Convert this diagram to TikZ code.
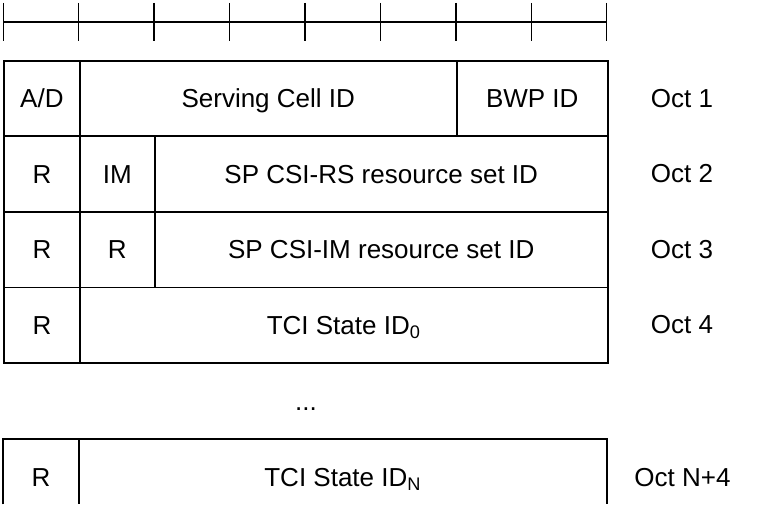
\documentclass[tikz,border=0pt]{standalone}
\usepackage{fontspec}
\setmainfont{Liberation Sans}
\begin{document}
\begin{tikzpicture}[x=1pt,y=-1pt,
  txt/.style={font=\fontsize{26}{30}\selectfont, inner sep=0pt, text height=18.6pt, text depth=0pt},
  cell/.style={txt, draw, line width=1.8pt, minimum height=75.5pt, anchor=north west},
  frame/.style={line width=1.8pt},
  ruler/.style={line width=1.5pt}]
\useasboundingbox (0,0) rectangle (760,516);
% ruler
\draw[ruler] (3.3,22) -- (606.7,22);
\foreach \i in {0,...,8} {
  \draw[ruler] ({3.3+75.425*\i},3) -- ({3.3+75.425*\i},41);
}
% Oct 1
\node[cell, minimum width=75.4pt]  (ad)   at (3.3,60) {A/D};
\node[cell, minimum width=377.3pt] (scid) at (78.7,60) {Serving Cell ID};
\node[cell, minimum width=150.7pt] (bwp)  at (456,60) {BWP ID};
% Oct 2
\node[cell, minimum width=75.4pt]  (r2)   at (3.3,135.5) {R};
\node[cell, minimum width=75.3pt]  (im)   at (78.7,135.5) {IM};
\node[cell, minimum width=452.7pt] (csirs) at (154,135.5) {SP CSI-RS resource set ID};
% Oct 3
\node[cell, minimum width=75.4pt]  (r3a)  at (3.3,211) {R};
\node[cell, minimum width=75.3pt]  (r3b)  at (78.7,211) {R};
\node[cell, minimum width=452.7pt] (csiim) at (154,211) {SP CSI-IM resource set ID};
% Oct 4
\node[cell, minimum width=75.4pt]  (r4)   at (3.3,286.5) {R};
\node[cell, minimum width=528pt]   (tci0) at (78.7,286.5) {TCI State ID\textsubscript{0}};
% ellipsis
\node[font=\fontsize{26}{30}\selectfont, inner sep=0pt, anchor=base] (dots) at (306,410) {...};
% Oct N+4 (cut off at the bottom)
\draw[frame] (3.3,504.3) -- (3.3,439) -- (606.7,439) -- (606.7,504.3);
\draw[frame] (78.7,439) -- (78.7,504.3);
\node[txt] (rN)   at (41,476.75) {R};
\node[txt] (tciN) at (342.7,476.75) {TCI State ID\textsubscript{N}};
% octet labels
\node[txt] (o1) at (682,97.75)  {Oct 1};
\node[txt] (o2) at (682,173.25) {Oct 2};
\node[txt] (o3) at (682,248.75) {Oct 3};
\node[txt] (o4) at (682,324.25) {Oct 4};
\node[txt] (oN) at (682.5,476.75) {Oct N+4};
\end{tikzpicture}
\end{document}
